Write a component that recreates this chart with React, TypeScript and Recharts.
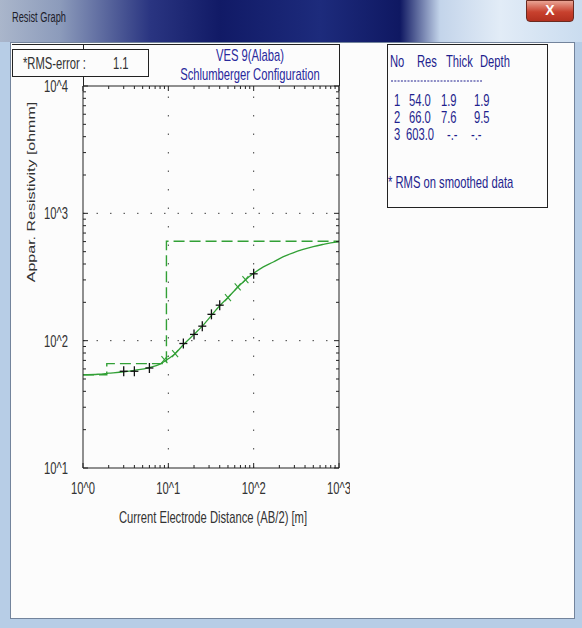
import React from 'react';
import { ComposedChart, Line, XAxis, YAxis, ReferenceLine } from 'recharts';

// field readings: AB/2 [m] and apparent resistivity [ohmm]
const fieldAB2 = [3, 4, 6, 15, 20, 25, 32, 40, 100];
const fieldRho = [57.5, 57.5, 61, 95, 112, 130, 161, 190, 335];

// smoothed readings
const smoothAB2 = [9, 12, 50, 65, 80];
const smoothRho = [71, 79, 218, 265, 301];

// calculated sounding curve for the layered model
const curveAB2 = [1, 1.5, 2, 3, 4, 6, 8, 10, 12, 15, 20, 25, 32, 40, 50, 65, 80, 100, 130, 170, 220, 290, 380, 500, 650, 800, 1000];
const curveRho = [54, 54.5, 55.5, 57, 58.5, 61.5, 65.5, 72, 79, 93, 112, 130, 158, 188, 218, 263, 300, 338, 380, 415, 455, 490, 520, 548, 570, 586, 597];

// layer model: top of each layer (depth) and its resistivity
const layerDepth = [1, 1.9, 9.5, 1000];
const layerRes = [54, 66, 603, 603];

// result table rows
const layerNo = ['1', '2', '3'];
const layerResText = ['54.0', '66.0', '603.0'];
const layerThick = ['1.9', '7.6', '-.-'];
const layerDepthText = ['1.9', '9.5', '-.-'];

const xDecades = [1, 10, 100, 1000];
const yDecades = [10, 100, 1000, 10000];
const minorSteps = [2, 3, 4, 5, 6, 7, 8, 9];

const withMinor = (decades: number[]) => {
  const out: number[] = [];
  decades.forEach((d, i) => {
    out.push(d);
    if (i < decades.length - 1) minorSteps.forEach((m) => out.push(d * m));
  });
  return out;
};
const xTicks = withMinor(xDecades);
const yTicks = withMinor(yDecades);

const toRows = (xs: number[], ys: number[]) => xs.map((ab, i) => ({ ab, rho: ys[i] }));
const fieldData = toRows(fieldAB2, fieldRho);
const smoothData = toRows(smoothAB2, smoothRho);
const curveData = toRows(curveAB2, curveRho);
const layerData = toRows(layerDepth, layerRes);

const GREEN = '#32a036';
const AXIS = '#222';
const FONT = "'Liberation Sans', Arial, sans-serif";
const SQUEEZE = 0.66;

const pow = (v: number) => `10^${Math.round(Math.log10(v))}`;

// narrow text helper (x,y = anchor point on baseline)
const NText = ({ x, y, anchor = 'start', size = 17, fill = '#333', children }: any) => (
  <text
    transform={`translate(${x},${y}) scale(${SQUEEZE},1)`}
    textAnchor={anchor}
    fontSize={size}
    fill={fill}
    fontFamily={FONT}
  >
    {children}
  </text>
);

const bottomTick = (p: any) => {
  const v = p.payload.value;
  const major = xDecades.includes(v);
  return (
    <g key={`b${v}`}>
      <line x1={p.x} x2={p.x} y1={p.y} y2={p.y - (major ? 5 : 3)} stroke={AXIS} />
      {major && <NText x={p.x} y={p.y + 26} anchor="middle">{pow(v)}</NText>}
    </g>
  );
};

const topTick = (p: any) => {
  const v = p.payload.value;
  const major = xDecades.includes(v);
  return <line key={`t${v}`} x1={p.x} x2={p.x} y1={p.y} y2={p.y + (major ? 5 : 3)} stroke={AXIS} />;
};

const leftTick = (p: any) => {
  const v = p.payload.value;
  const major = yDecades.includes(v);
  return (
    <g key={`l${v}`}>
      <line x1={p.x} x2={p.x + (major ? 5 : 3)} y1={p.y} y2={p.y} stroke={AXIS} />
      {major && <NText x={p.x - 15} y={p.y + 6} anchor="end">{pow(v)}</NText>}
    </g>
  );
};

const rightTick = (p: any) => {
  const v = p.payload.value;
  const major = yDecades.includes(v);
  return <line key={`r${v}`} x1={p.x} x2={p.x - (major ? 5 : 3)} y1={p.y} y2={p.y} stroke={AXIS} />;
};

const plusDot = (p: any) => (
  <g key={`p${p.index}`}>
    <line x1={p.cx - 4} x2={p.cx + 4} y1={p.cy} y2={p.cy} stroke="#111" strokeWidth={1.3} />
    <line x1={p.cx} x2={p.cx} y1={p.cy - 5} y2={p.cy + 5} stroke="#111" strokeWidth={1.3} />
  </g>
);

const crossDot = (p: any) => (
  <g key={`x${p.index}`}>
    <line x1={p.cx - 3} x2={p.cx + 3} y1={p.cy - 3.5} y2={p.cy + 3.5} stroke={GREEN} strokeWidth={1.1} />
    <line x1={p.cx - 3} x2={p.cx + 3} y1={p.cy + 3.5} y2={p.cy - 3.5} stroke={GREEN} strokeWidth={1.1} />
  </g>
);

const hLine = (left: number, top: number, width: number) => (
  <div style={{ position: 'absolute', left, top, width, height: 1, background: AXIS }} />
);
const vLine = (left: number, top: number, height: number) => (
  <div style={{ position: 'absolute', left, top, width: 1, height, background: AXIS }} />
);

const tableCols = [394, 409, 441, 474];
const tableRowsY = [106, 123, 140];

export default function App() {
  return (
    <div style={{ position: 'absolute', left: 0, top: 0, width: 582, height: 628, background: '#b7cde6', overflow: 'hidden' }}>
      {/* title bar */}
      <div
        style={{
          position: 'absolute', left: 0, top: 0, width: 582, height: 42,
          background: 'linear-gradient(to right, #aab6cb 0px, #8c9bbb 60px, #2a3581 150px, #111a66 220px, #1d2b7c 320px, #0f1862 400px, #c3d4ea 440px, #e2ecf7 500px, #cadcef 582px)',
        }}
      />
      <div
        style={{
          position: 'absolute', left: 526, top: 0, width: 46, height: 20, borderRadius: '0 0 4px 4px',
          background: 'linear-gradient(#e9a393, #c8412e 55%, #b3301f)', border: '1px solid #6b2a20',
          color: '#fff', fontFamily: FONT, fontWeight: 'bold', fontSize: 14, textAlign: 'center', lineHeight: '19px',
        }}
      >
        X
      </div>
      {/* client area */}
      <div style={{ position: 'absolute', left: 10, top: 42, width: 563, height: 575, background: '#fcfcfc', border: '1px solid #73849c' }} />

      <div style={{ position: 'absolute', left: 0, top: 0, width: 350, height: 530 }}>
        <ComposedChart width={350} height={530} margin={{ top: 60, right: 0, bottom: 0, left: 43 }}>
          <XAxis
            xAxisId="b" dataKey="ab" type="number" scale="log" domain={[1, 1000]} allowDataOverflow
            ticks={xTicks} interval={0} tickSize={0} tickMargin={0} tick={bottomTick}
            axisLine={{ stroke: AXIS }} height={62}
          />
          <XAxis
            xAxisId="t" orientation="top" dataKey="ab" type="number" scale="log" domain={[1, 1000]} allowDataOverflow
            ticks={xTicks} interval={0} tickSize={0} tickMargin={0} tick={topTick}
            axisLine={{ stroke: AXIS }} height={26}
          />
          <YAxis
            yAxisId="l" type="number" scale="log" domain={[10, 10000]} allowDataOverflow
            ticks={yTicks} interval={0} tickSize={0} tickMargin={0} tick={leftTick}
            axisLine={{ stroke: AXIS }} width={40}
          />
          <YAxis
            yAxisId="r" orientation="right" type="number" scale="log" domain={[10, 10000]} allowDataOverflow
            ticks={yTicks} interval={0} tickSize={0} tickMargin={0} tick={rightTick}
            axisLine={{ stroke: AXIS }} width={11}
          />
          {[100, 1000].map((v) => (
            <ReferenceLine key={`gy${v}`} xAxisId="b" yAxisId="l" y={v} stroke="#444" strokeDasharray="1.5 12" />
          ))}
          {[10, 100].map((v) => (
            <ReferenceLine key={`gx${v}`} xAxisId="b" yAxisId="l" x={v} stroke="#444" strokeDasharray="1.5 17" />
          ))}
          <Line
            xAxisId="b" yAxisId="l" data={layerData} dataKey="rho" type="stepAfter"
            stroke={GREEN} strokeWidth={1.4} strokeDasharray="11 5" dot={false} isAnimationActive={false}
          />
          <Line
            xAxisId="b" yAxisId="l" data={curveData} dataKey="rho" type="monotone"
            stroke={GREEN} strokeWidth={1.3} dot={false} isAnimationActive={false}
          />
          <Line
            xAxisId="b" yAxisId="l" data={smoothData} dataKey="rho"
            stroke="none" dot={crossDot} activeDot={false} isAnimationActive={false}
          />
          <Line
            xAxisId="b" yAxisId="l" data={fieldData} dataKey="rho"
            stroke="none" dot={plusDot} activeDot={false} isAnimationActive={false}
          />
        </ComposedChart>
      </div>

      {/* graph frame above the plot */}
      {hLine(12, 44, 328)}
      {vLine(83, 44, 42)}
      {vLine(339, 44, 42)}

      {/* RMS box and layer table */}
      <div style={{ position: 'absolute', left: 12, top: 49, width: 135, height: 26, border: '1px solid #222', background: '#fcfcfc' }} />
      <div style={{ position: 'absolute', left: 387, top: 44, width: 159, height: 162, border: '1px solid #222', background: '#fcfcfc' }} />

      <svg width={582} height={628} style={{ position: 'absolute', left: 0, top: 0, pointerEvents: 'none' }}>
        <NText x={12} y={22} size={14} fill="#1d1d2a">Resist Graph</NText>

        <NText x={23} y={69}>*RMS-error :</NText>
        <NText x={113} y={69}>1.1</NText>

        <NText x={250} y={61} anchor="middle" fill="#2a2a9c">VES 9(Alaba)</NText>
        <NText x={250} y={80} anchor="middle" fill="#2a2a9c">Schlumberger Configuration</NText>

        <NText x={213} y={523} anchor="middle">Current Electrode Distance (AB/2) [m]</NText>
        <text
          transform={`translate(35,192) scale(${SQUEEZE},1) rotate(-90)`}
          textAnchor="middle" fontSize={16} fill="#333" fontFamily={FONT}
        >
          Appar. Resistivity [ohmm]
        </text>

        <NText x={390} y={67} fill="#1f1f8e">No</NText>
        <NText x={417} y={67} fill="#1f1f8e">Res</NText>
        <NText x={446} y={67} fill="#1f1f8e">Thick</NText>
        <NText x={480} y={67} fill="#1f1f8e">Depth</NText>
        <line x1={391} x2={482} y1={81} y2={81} stroke="#1f1f8e" strokeDasharray="2 1.3" />
        {layerNo.map((n, i) => (
          <g key={n}>
            <NText x={tableCols[0]} y={tableRowsY[i]} fill="#1f1f8e">{n}</NText>
            <NText x={i === 2 ? tableCols[1] - 3 : tableCols[1]} y={tableRowsY[i]} fill="#1f1f8e">{layerResText[i]}</NText>
            <NText x={i === 2 ? tableCols[2] + 6 : tableCols[2]} y={tableRowsY[i]} fill="#1f1f8e">{layerThick[i]}</NText>
            <NText x={i === 2 ? tableCols[3] - 3 : tableCols[3]} y={tableRowsY[i]} fill="#1f1f8e">{layerDepthText[i]}</NText>
          </g>
        ))}
        <NText x={388} y={188} fill="#1f1f8e">* RMS on smoothed data</NText>
      </svg>
    </div>
  );
}
